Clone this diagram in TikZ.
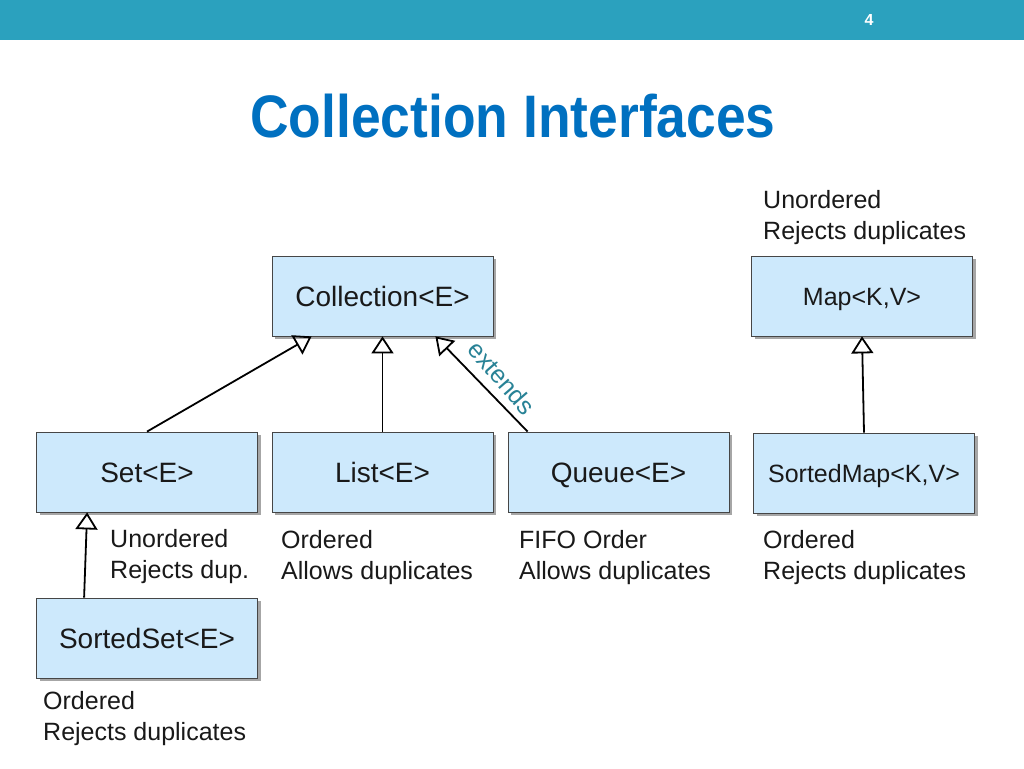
\documentclass[tikz,border=0pt]{standalone}
\usepackage{fontspec}
\setmainfont{Liberation Sans}
\usetikzlibrary{arrows.meta,shadows}
\definecolor{barcol}{RGB}{43,161,190}
\definecolor{titlecol}{RGB}{0,112,192}
\definecolor{boxfill}{RGB}{205,233,252}
\definecolor{boxline}{RGB}{70,70,70}
\definecolor{extcol}{RGB}{40,130,150}
\definecolor{txt}{RGB}{25,25,25}
\tikzset{
  cls/.style={draw=boxline, line width=0.8pt, fill=boxfill, minimum width=221pt, minimum height=80pt,
    inner sep=0pt, font=\fontsize{28}{32}\selectfont, text=txt, text height=20pt, text depth=0pt,
    drop shadow={shadow xshift=3pt, shadow yshift=-3pt, fill=black, opacity=0.35}},
  clssm/.style={cls, font=\fontsize{25}{30}\selectfont, text height=18pt},
  inh/.style={line width=1.8pt, draw=black, -{Triangle[open, width=22pt, length=17pt, line width=1.8pt]}},
  note/.style={anchor=base west, align=left, inner sep=0pt, text=txt, font=\fontsize{25}{31}\selectfont},
}
\begin{document}
\begin{tikzpicture}[x=1pt,y=-1pt]
\useasboundingbox (0,0) rectangle (1024,768);
\fill[white] (0,0) rectangle (1024,768);
\fill[barcol] (0,0) rectangle (1024,40);
\node[text=white, font=\fontsize{16}{18}\selectfont\bfseries] (pg) at (869,20) {4};
\node[text=titlecol, font=\fontsize{60}{66}\selectfont\bfseries, anchor=base, inner sep=0pt] (title) at (513,137) {\scalebox{0.89}[1]{Collection Interfaces}};

\node[cls] (coll) at (382.5,296) {Collection<E>};
\node[clssm] (map) at (862,296) {Map<K,V>};
\node[cls] (set) at (147,472) {Set<E>};
\node[cls] (list) at (382.5,472) {List<E>};
\node[cls] (queue) at (618.5,472) {Queue<E>};
\node[clssm] (smap) at (864,473) {SortedMap<K,V>};
\node[cls] (sset) at (147,638) {SortedSet<E>};

\draw[inh] (set.north) -- ([xshift=40pt]coll.south west);
\draw[inh] (list.north) -- (coll.south);
\draw[inh] ([xshift=20pt]queue.north west) -- ([xshift=-58pt]coll.south east);
\draw[inh] (smap.north) -- (map.south);
\draw[inh] ([xshift=48pt]sset.north west) -- ([xshift=51pt]set.south west);

\node[text=extcol, font=\fontsize{25}{28}\selectfont, rotate=-49, inner sep=0pt] (ext) at (502,378) {extends};

\node[note] (n1) at (763,239) {Unordered\\Rejects duplicates};
\node[note] (n2) at (110,578) {Unordered\\Rejects dup.};
\node[note] (n3) at (281,579) {Ordered\\Allows duplicates};
\node[note] (n4) at (519,579) {FIFO Order\\Allows duplicates};
\node[note] (n5) at (763,579) {Ordered\\Rejects duplicates};
\node[note] (n6) at (43,740) {Ordered\\Rejects duplicates};
\end{tikzpicture}
\end{document}
